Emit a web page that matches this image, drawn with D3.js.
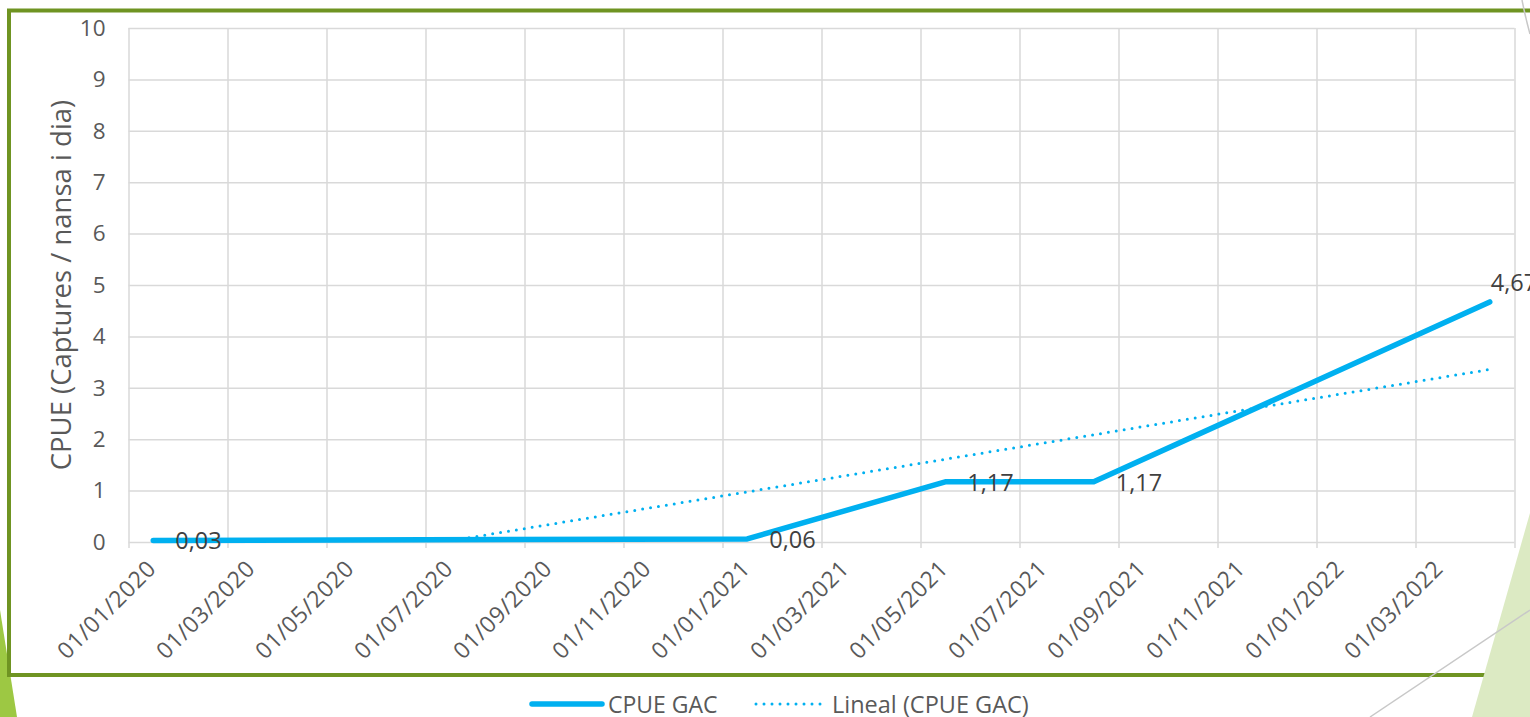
<!DOCTYPE html>
<html>
<head>
<meta charset="utf-8">
<script src="https://cdn.jsdelivr.net/npm/d3@7"></script>
<style>
  body { margin: 0; background: #fff; }
  svg { display: block; font-family: "Open Sans", "Noto Sans", sans-serif; }
</style>
</head>
<body>
<svg id="chart" width="1530" height="717"></svg>
<script>
// Data
const months = ["2020-01", "2021-01", "2021-05", "2021-08", "2022-04"];
const cpue = [0.03, 0.06, 1.17, 1.17, 4.67];
const yTicks = [0, 1, 2, 3, 4, 5, 6, 7, 8, 9, 10];
const xTickLabels = [
  "01/01/2020", "01/03/2020", "01/05/2020", "01/07/2020", "01/09/2020",
  "01/11/2020", "01/01/2021", "01/03/2021", "01/05/2021", "01/07/2021",
  "01/09/2021", "01/11/2021", "01/01/2022", "01/03/2022"
];
const seriesNames = ["CPUE GAC", "Lineal (CPUE GAC)"];
const yTitle = "CPUE (Captures / nansa i dia)";

const blue = "#00B0F0";
const grid = "#D9D9D9";
const textGrey = "#595959";

const margin = { top: 28, right: 15.5, bottom: 175, left: 128.5 };
const W = 1530, H = 717;
const plotW = W - margin.left - margin.right;
const plotH = H - margin.top - margin.bottom;

const svg = d3.select("#chart");

// slide decoration (left triangle)
svg.append("polygon")
  .attr("points", "0,610 17,717 0,717")
  .attr("fill", "#9DC843");

// chart frame
svg.append("rect")
  .attr("x", 9).attr("y", 10.5)
  .attr("width", 1540).attr("height", 664.5)
  .attr("fill", "#fff")
  .attr("stroke", "#6F9422")
  .attr("stroke-width", 4);

// month index since Jan 2020, centred in the month slot
const monthPos = (s) => {
  const [y, m] = s.split("-").map(Number);
  return (y - 2020) * 12 + (m - 1) + 0.5;
};
const pts = months.map((m, i) => ({ x: monthPos(m), y: cpue[i] }));

const x = d3.scaleLinear().domain([0, 28]).range([0, plotW]);
const y = d3.scaleLinear().domain([0, 10]).range([plotH, 0]);

const g = svg.append("g")
  .attr("transform", "translate(" + margin.left + "," + margin.top + ")");

// vertical gridlines + tick marks below axis
const xGrid = g.append("g")
  .attr("transform", "translate(0," + (plotH + 6) + ")")
  .call(d3.axisBottom(x).tickValues(d3.range(0, 29, 2)).tickSize(-(plotH + 6)).tickFormat(""));
xGrid.select(".domain").remove();
xGrid.selectAll("line").attr("stroke", grid).attr("stroke-width", 1.5);

// horizontal gridlines + y labels
const yAxis = g.append("g")
  .call(d3.axisLeft(y).tickValues(yTicks).tickSize(-plotW).tickPadding(23));
yAxis.select(".domain").remove();
yAxis.selectAll("line").attr("stroke", grid).attr("stroke-width", 1.5);
yAxis.selectAll("text")
  .attr("fill", textGrey)
  .style("font-size", "22.5px")
  .style("font-family", "'Open Sans', sans-serif");

// rotated x labels
g.append("g")
  .selectAll("text")
  .data(xTickLabels)
  .join("text")
  .attr("transform", (d, i) => "translate(" + (x(i * 2) + 29) + "," + (plotH + 28) + ") rotate(-45)")
  .attr("text-anchor", "end")
  .attr("fill", textGrey)
  .style("font-size", "23px")
  .style("letter-spacing", "0.6px")
  .text((d) => d);

// y title
g.append("text")
  .attr("transform", "translate(" + (-68) + "," + (plotH / 2) + ") rotate(-90)")
  .attr("text-anchor", "middle")
  .attr("dominant-baseline", "central")
  .attr("fill", textGrey)
  .style("font-size", "27.5px")
  .text(yTitle);

// linear trendline (least squares on month position)
const mx = d3.mean(pts, (d) => d.x), my = d3.mean(pts, (d) => d.y);
const slope = d3.sum(pts, (d) => (d.x - mx) * (d.y - my)) / d3.sum(pts, (d) => (d.x - mx) ** 2);
const icpt = my - slope * mx;
const x0 = d3.min(pts, (d) => d.x), x1 = d3.max(pts, (d) => d.x);
const trend = [{ x: x0, y: icpt + slope * x0 }, { x: x1, y: icpt + slope * x1 }];

svg.append("defs").append("clipPath").attr("id", "plotClip")
  .append("rect").attr("x", 0).attr("y", -10).attr("width", plotW + 20).attr("height", plotH + 10);

const line = d3.line().x((d) => x(d.x)).y((d) => y(d.y));

g.append("path")
  .datum(pts)
  .attr("d", line)
  .attr("fill", "none")
  .attr("stroke", blue)
  .attr("stroke-width", 5.5)
  .attr("stroke-linejoin", "round")
  .attr("stroke-linecap", "round");

g.append("path")
  .datum(trend)
  .attr("d", line)
  .attr("clip-path", "url(#plotClip)")
  .attr("fill", "none")
  .attr("stroke", blue)
  .attr("stroke-width", 3)
  .attr("stroke-dasharray", "0 8")
  .attr("stroke-linecap", "round");

// data labels
const fmt = d3.formatLocale({ decimal: ",", thousands: ".", grouping: [3], currency: ["", "€"] }).format(".2f");
g.append("g")
  .selectAll("text")
  .data(pts)
  .join("text")
  .attr("x", (d, i) => x(d.x) + (i === pts.length - 1 ? 1 : 22))
  .attr("y", (d, i) => y(d.y) - (i === pts.length - 1 ? 20 : 0))
  .attr("dominant-baseline", "central")
  .attr("fill", "#404040")
  .style("font-size", "23.5px")
  .text((d) => fmt(d.y));

// legend
const leg = svg.append("g").attr("transform", "translate(0,704)");
leg.append("line").attr("x1", 532).attr("x2", 602).attr("stroke", blue)
  .attr("stroke-width", 5.5).attr("stroke-linecap", "round");
leg.append("text").attr("x", 608).attr("dominant-baseline", "central")
  .attr("fill", textGrey).style("font-size", "23px").text(seriesNames[0]);
leg.append("line").attr("x1", 756).attr("x2", 825).attr("stroke", blue)
  .attr("stroke-width", 3).attr("stroke-dasharray", "0 8").attr("stroke-linecap", "round");
leg.append("text").attr("x", 832).attr("dominant-baseline", "central")
  .attr("fill", textGrey).style("font-size", "23.5px").text(seriesNames[1]);

// slide decoration (right side)
svg.append("polygon")
  .attr("points", "1530,513 1472,717 1530,717")
  .attr("fill", "#DCEAC3");
svg.append("line")
  .attr("x1", 1370).attr("y1", 717).attr("x2", 1530).attr("y2", 610)
  .attr("stroke", "#C8C8C8").attr("stroke-width", 1.5);
svg.append("path")
  .attr("d", "M1522,0 Q1526,20 1530,34")
  .attr("fill", "none").attr("stroke", "#C8C8C8").attr("stroke-width", 1.5);
</script>
</body>
</html>
